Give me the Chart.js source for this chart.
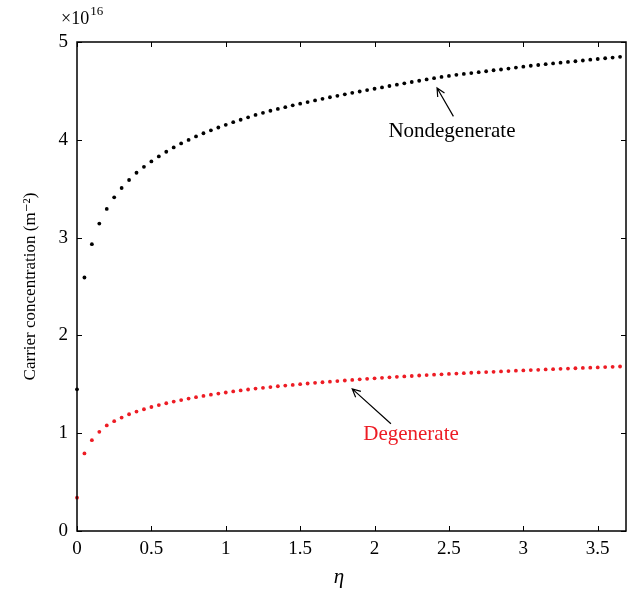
<!DOCTYPE html>
<html>
<head>
<meta charset="utf-8">
<script src="https://cdn.jsdelivr.net/npm/chart.js@4.4.1/dist/chart.umd.min.js"></script>
<style>
  html, body { margin: 0; padding: 0; background: #fff; }
  #wrap { width: 643px; height: 595px; }
</style>
</head>
<body>
<div id="wrap"><canvas id="carriers"></canvas></div>
<script>
// eta values (reduced Fermi level), step
const etaValues = [
  0, 0.05, 0.1, 0.15, 0.2, 0.25, 0.3, 0.35, 0.4, 0.45,
  0.5, 0.55, 0.6, 0.65, 0.7, 0.75, 0.8, 0.85, 0.9, 0.95,
  1.0, 1.05, 1.1, 1.15, 1.2, 1.25, 1.3, 1.35, 1.4, 1.45,
  1.5, 1.55, 1.6, 1.65, 1.7, 1.75, 1.8, 1.85, 1.9, 1.95,
  2.0, 2.05, 2.1, 2.15, 2.2, 2.25, 2.3, 2.35, 2.4, 2.45,
  2.5, 2.55, 2.6, 2.65, 2.7, 2.75, 2.8, 2.85, 2.9, 2.95,
  3.0, 3.05, 3.1, 3.15, 3.2, 3.25, 3.3, 3.35, 3.4, 3.45,
  3.5, 3.55, 3.6, 3.65
];

// carrier concentration in units of 1e16 m^-2
const nondegenerate = [
  1.449, 2.592, 2.933, 3.143, 3.293, 3.412, 3.507, 3.589, 3.663, 3.724,
  3.779, 3.830, 3.878, 3.922, 3.963, 3.999, 4.034, 4.067, 4.097, 4.126,
  4.153, 4.180, 4.205, 4.230, 4.254, 4.276, 4.297, 4.316, 4.334, 4.352,
  4.369, 4.386, 4.403, 4.419, 4.435, 4.450, 4.465, 4.480, 4.494, 4.508,
  4.522, 4.536, 4.550, 4.564, 4.577, 4.591, 4.604, 4.617, 4.630, 4.643,
  4.653, 4.664, 4.674, 4.682, 4.691, 4.701, 4.711, 4.719, 4.728, 4.738,
  4.748, 4.757, 4.765, 4.773, 4.781, 4.789, 4.796, 4.803, 4.811, 4.819,
  4.826, 4.834, 4.841, 4.848
];

const degenerate = [
  0.341, 0.793, 0.929, 1.014, 1.079, 1.123, 1.160, 1.194, 1.221, 1.245,
  1.268, 1.288, 1.306, 1.323, 1.339, 1.354, 1.368, 1.381, 1.394, 1.405,
  1.416, 1.427, 1.437, 1.447, 1.456, 1.464, 1.472, 1.480, 1.487, 1.494,
  1.501, 1.508, 1.515, 1.521, 1.527, 1.533, 1.539, 1.545, 1.551, 1.556,
  1.561, 1.566, 1.571, 1.576, 1.581, 1.585, 1.590, 1.594, 1.598, 1.602,
  1.606, 1.610, 1.614, 1.618, 1.621, 1.625, 1.628, 1.632, 1.635, 1.639,
  1.642, 1.645, 1.648, 1.652, 1.655, 1.658, 1.661, 1.664, 1.667, 1.670,
  1.673, 1.676, 1.679, 1.682
];

const xTicks = [0, 0.5, 1, 1.5, 2, 2.5, 3, 3.5];
const yTicks = [0, 1, 2, 3, 4, 5];

const SERIF = '"Liberation Serif", "DejaVu Serif", serif';
const RED = '#ed1c24';

// annotation anchors in data units: [eta, value]
const notes = [
  { text: 'Nondegenerate', color: '#000', at: [2.52, 4.08], tail: [2.53, 4.24], tip: [2.42, 4.53] },
  { text: 'Degenerate', color: RED, at: [2.245, 0.99], tail: [2.11, 1.096], tip: [1.85, 1.453] }
];

function toPoints(values) {
  return etaValues.map((eta, i) => ({ x: eta, y: values[i] }));
}

function drawArrow(ctx, x1, y1, x2, y2) {
  const ang = Math.atan2(y2 - y1, x2 - x1);
  const head = 9;
  ctx.beginPath();
  ctx.moveTo(x1, y1);
  ctx.lineTo(x2, y2);
  ctx.moveTo(x2 - head * Math.cos(ang - 0.45), y2 - head * Math.sin(ang - 0.45));
  ctx.lineTo(x2, y2);
  ctx.lineTo(x2 - head * Math.cos(ang + 0.45), y2 - head * Math.sin(ang + 0.45));
  ctx.stroke();
}

// matlab style box: inward ticks on all four sides, exponent and notes
const boxPlugin = {
  id: 'box',
  afterDraw(chart) {
    const { ctx, chartArea: a, scales } = chart;
    const xs = scales.x, ys = scales.y;
    ctx.save();
    ctx.strokeStyle = '#000';
    ctx.lineWidth = 1.5;
    ctx.strokeRect(a.left, a.top, a.right - a.left, a.bottom - a.top);

    ctx.lineWidth = 1;
    ctx.beginPath();
    for (const t of xTicks) {
      const px = Math.round(xs.getPixelForValue(t)) + 0.5;
      ctx.moveTo(px, a.bottom); ctx.lineTo(px, a.bottom - 5);
      ctx.moveTo(px, a.top); ctx.lineTo(px, a.top + 5);
    }
    for (const t of yTicks) {
      const py = Math.round(ys.getPixelForValue(t)) + 0.5;
      ctx.moveTo(a.left, py); ctx.lineTo(a.left + 5, py);
      ctx.moveTo(a.right, py); ctx.lineTo(a.right - 5, py);
    }
    ctx.stroke();

    // exponent label
    ctx.fillStyle = '#000';
    ctx.textBaseline = 'alphabetic';
    ctx.textAlign = 'left';
    ctx.font = '18px ' + SERIF;
    ctx.fillText('\u00d710', 61, 24);
    const w = ctx.measureText('\u00d710').width;
    ctx.font = '13px ' + SERIF;
    ctx.fillText('16', 61 + w + 1, 15);

    // x axis title
    ctx.font = 'italic 21px ' + SERIF;
    ctx.textAlign = 'center';
    ctx.textBaseline = 'middle';
    ctx.fillText('\u03b7', 339, 577);

    // annotations
    ctx.font = '21px ' + SERIF;
    for (const n of notes) {
      ctx.strokeStyle = '#000';
      ctx.lineWidth = 1.2;
      drawArrow(ctx,
        xs.getPixelForValue(n.tail[0]), ys.getPixelForValue(n.tail[1]),
        xs.getPixelForValue(n.tip[0]), ys.getPixelForValue(n.tip[1]));
      ctx.fillStyle = n.color;
      ctx.fillText(n.text, xs.getPixelForValue(n.at[0]), ys.getPixelForValue(n.at[1]));
    }
    ctx.restore();
  }
};

new Chart(document.getElementById('carriers'), {
  type: 'scatter',
  data: {
    datasets: [
      {
        label: 'Nondegenerate',
        data: toPoints(nondegenerate),
        backgroundColor: '#000',
        borderWidth: 0,
        pointRadius: 1.9,
        clip: false
      },
      {
        label: 'Degenerate',
        data: toPoints(degenerate),
        backgroundColor: RED,
        borderWidth: 0,
        pointRadius: 1.9,
        clip: false
      }
    ]
  },
  options: {
    responsive: true,
    maintainAspectRatio: false,
    animation: false,
    events: [],
    layout: { padding: { left: 0, top: 42, right: 17, bottom: 0 } },
    plugins: { legend: { display: false }, tooltip: { enabled: false } },
    scales: {
      x: {
        type: 'linear',
        min: 0,
        max: 3.69,
        afterBuildTicks: (scale) => { scale.ticks = xTicks.map((v) => ({ value: v })); },
        afterFit: (scale) => { scale.height = 64; },
        ticks: {
          color: '#000',
          padding: 7,
          font: { family: SERIF, size: 19 },
          callback: (v) => String(v)
        },
        grid: { display: false, drawTicks: false },
        border: { display: false }
      },
      y: {
        type: 'linear',
        min: 0,
        max: 5,
        afterBuildTicks: (scale) => { scale.ticks = yTicks.map((v) => ({ value: v })); },
        afterFit: (scale) => { scale.width = 77; },
        ticks: {
          color: '#000',
          padding: 9,
          font: { family: SERIF, size: 19 },
          callback: (v) => String(v)
        },
        title: {
          display: true,
          text: 'Carrier concentration (m\u207b\u00b2)',
          color: '#000',
          font: { family: SERIF, size: 17 },
          padding: { top: 20, bottom: 0 }
        },
        grid: { display: false, drawTicks: false },
        border: { display: false }
      }
    }
  },
  plugins: [boxPlugin]
});
</script>
</body>
</html>
